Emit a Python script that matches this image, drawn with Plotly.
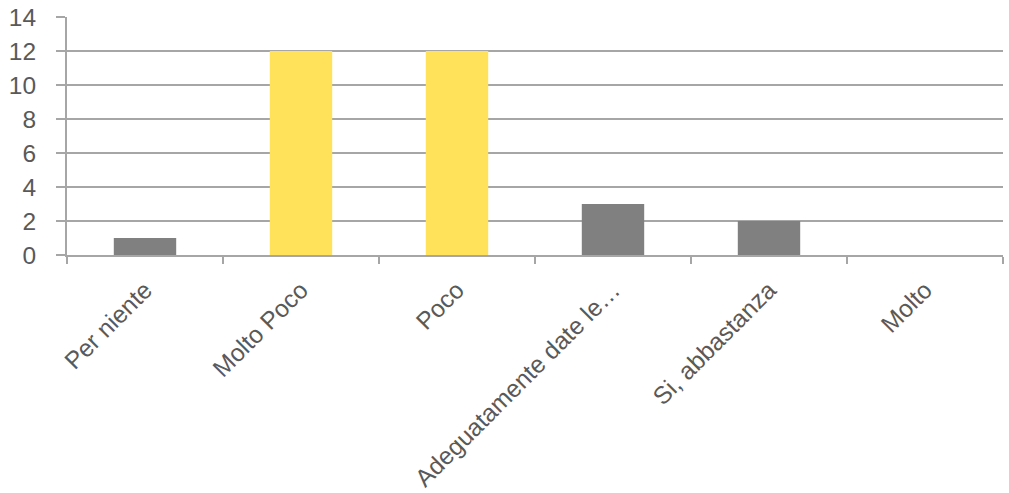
import plotly.graph_objects as go

categories = ["Per niente", "Molto Poco", "Poco", "Adeguatamente date le…", "Si, abbastanza", "Molto"]
counts = [1, 12, 12, 3, 2, 0]
bar_colors = ["#808080", "#FFE15A", "#FFE15A", "#808080", "#808080", "#808080"]

axis_grey = "#A6A6A6"
text_grey = "#595959"

fig = go.Figure(
    go.Bar(
        x=categories,
        y=counts,
        marker=dict(color=bar_colors, line=dict(width=0)),
        width=0.4,
    )
)

fig.update_layout(
    width=1009,
    height=493,
    margin=dict(l=67, r=6, t=17, b=238),
    paper_bgcolor="white",
    plot_bgcolor="white",
    showlegend=False,
    font=dict(family="Liberation Sans, Arial, sans-serif", size=24.5, color=text_grey),
)

fig.update_xaxes(
    type="category",
    automargin=False,
    tickson="boundaries",
    ticks="outside",
    ticklen=7,
    tickwidth=2,
    tickcolor=axis_grey,
    showline=True,
    linecolor=axis_grey,
    linewidth=2,
    showgrid=False,
    tickangle=-45,
    ticklabelstandoff=9,
    tickfont=dict(size=24.5, color=text_grey),
)

fig.update_yaxes(
    range=[0, 14],
    dtick=2,
    automargin=False,
    ticks="outside",
    ticklen=9,
    tickwidth=2,
    tickcolor=axis_grey,
    showline=True,
    linecolor=axis_grey,
    linewidth=2,
    showgrid=True,
    gridcolor=axis_grey,
    gridwidth=2,
    zeroline=False,
    ticklabelstandoff=15,
    tickfont=dict(size=24.5, color=text_grey),
)

fig.write_html("out.html")
